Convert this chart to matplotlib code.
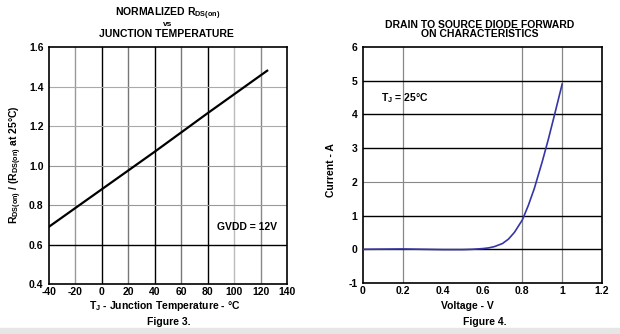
import matplotlib
matplotlib.use("Agg")
import matplotlib.pyplot as plt
from matplotlib.patches import Rectangle

plt.rcParams['font.family'] = ['Liberation Sans', 'DejaVu Sans']
plt.rcParams['font.weight'] = 'bold'
plt.rcParams['axes.unicode_minus'] = False
plt.rcParams['mathtext.fontset'] = 'custom'
plt.rcParams['mathtext.rm'] = 'Liberation Sans:bold'
plt.rcParams['mathtext.it'] = 'Liberation Sans:bold'
plt.rcParams['mathtext.bf'] = 'Liberation Sans:bold'

# figure 3 - normalized rds(on) vs junction temperature
temp_c = [-40, 0, 40, 80, 125]
rds_norm = [0.69, 0.88, 1.07, 1.265, 1.48]
temp_ticks = [-40, -20, 0, 20, 40, 60, 80, 100, 120, 140]
rds_ticks = [0.4, 0.6, 0.8, 1.0, 1.2, 1.4, 1.6]
temp_grid = [-20, 0, 20, 40, 60, 80, 100, 120]
temp_grid_col = ['#999999', '#000000', '#777777', '#000000', '#777777', '#000000', '#bbbbbb', '#888888']
rds_grid = [0.6, 0.8, 1.0, 1.2, 1.4]
rds_grid_col = ['#000000', '#999999', '#999999', '#aaaaaa', '#aaaaaa']

# figure 4 - diode forward characteristics
volt = [0.0, 0.1, 0.2, 0.3, 0.4, 0.5, 0.55, 0.6, 0.63, 0.66, 0.7, 0.73, 0.76, 0.8, 0.83, 0.86, 0.9, 0.93, 0.96, 1.0]
amps = [0.0, 0.005, 0.01, 0.0, -0.01, -0.01, 0.0, 0.02, 0.04, 0.08, 0.17, 0.3, 0.5, 0.87, 1.3, 1.8, 2.6, 3.25, 3.95, 4.9]
volt_ticks = [0, 0.2, 0.4, 0.6, 0.8, 1, 1.2]
volt_labels = ['0', '0.2', '0.4', '0.6', '0.8', '1', '1.2']
amp_ticks = [-1, 0, 1, 2, 3, 4, 5, 6]
volt_grid = [0.2, 0.8, 1.0]
amp_grid = [0, 1, 2, 3, 4, 5]
amp_grid_col = ['#000000', '#000000', '#888888', '#000000', '#000000', '#000000']

fig = plt.figure(figsize=(6.2, 3.34), dpi=100)
W, H = 620.0, 334.0
FS = 7.5

def box(l, t, r, b):
    return [l / W, 1 - b / H, (r - l) / W, (b - t) / H]

def px(x, y, s, fs=FS, **kw):
    kw.setdefault('ha', 'center')
    kw.setdefault('va', 'center')
    fig.text(x / W, 1 - y / H, s, fontsize=fs, fontweight='bold', **kw)

ax1 = fig.add_axes(box(49, 47, 287, 284))
ax2 = fig.add_axes(box(363, 47, 602, 283))

# left chart
for x, c in zip(temp_grid, temp_grid_col):
    ax1.axvline(x, color=c, lw=1.0, zorder=1)
for y, c in zip(rds_grid, rds_grid_col):
    ax1.axhline(y, color=c, lw=1.0 if c == '#000000' else 0.8, zorder=1)
ax1.plot(temp_c, rds_norm, color='black', lw=1.6, zorder=3)
ax1.set_xlim(-40, 140)
ax1.set_ylim(0.4, 1.6)
ax1.set_xticks(temp_ticks)
ax1.set_yticks(rds_ticks)
ax1.set_yticklabels([f"{v:.1f}" for v in rds_ticks])
ax1.text(87, 0.69, "GVDD = 12V", fontsize=FS, fontweight='bold', va='center')

# right chart
for x in volt_grid:
    ax2.axvline(x, color='#888888', lw=0.9, zorder=1)
for y, c in zip(amp_grid, amp_grid_col):
    ax2.axhline(y, color=c, lw=1.0 if c == '#000000' else 0.8, zorder=1)
ax2.plot(volt, amps, color='#3535a8', lw=1.2, zorder=3)
ax2.set_xlim(0, 1.2)
ax2.set_ylim(-1, 6)
ax2.set_xticks(volt_ticks)
ax2.set_xticklabels(volt_labels)
ax2.set_yticks(amp_ticks)
ax2.text(0.09, 4.49, r"T$_{\mathbf{J}}$ = 25°C", fontsize=FS, fontweight='bold', va='center')

for ax in (ax1, ax2):
    for s in ax.spines.values():
        s.set_linewidth(1.2)
    ax.tick_params(length=0, labelsize=FS, pad=4)
    ax.tick_params(axis='x', pad=2.5)
    for lab in ax.get_xticklabels() + ax.get_yticklabels():
        lab.set_fontweight('bold')

# titles and labels placed by pixel
px(168, 14, r"NORMALIZED R$_{\mathbf{DS(on)}}$")
px(168, 24.5, "vs", fs=6)
px(166, 34, "JUNCTION TEMPERATURE")
px(480, 24.5, "DRAIN TO SOURCE DIODE FORWARD")
px(480, 34, "ON CHARACTERISTICS")

px(165, 306, r"T$_{\mathbf{J}}$ - Junction Temperature - °C")
px(16, 165, r"R$_{\mathbf{DS(on)}}$ / (R$_{\mathbf{DS(on)}}$ at 25°C)", rotation=90)
px(467, 306, "Voltage - V")
px(331, 170, "Current - A", rotation=90)

px(169, 322, "Figure 3.")
px(485, 322, "Figure 4.")
fig.patches.append(Rectangle((0, 0), 1, 6 / H, transform=fig.transFigure, color='#e6e6e6', zorder=0))

fig.savefig("out.png", dpi=100)
